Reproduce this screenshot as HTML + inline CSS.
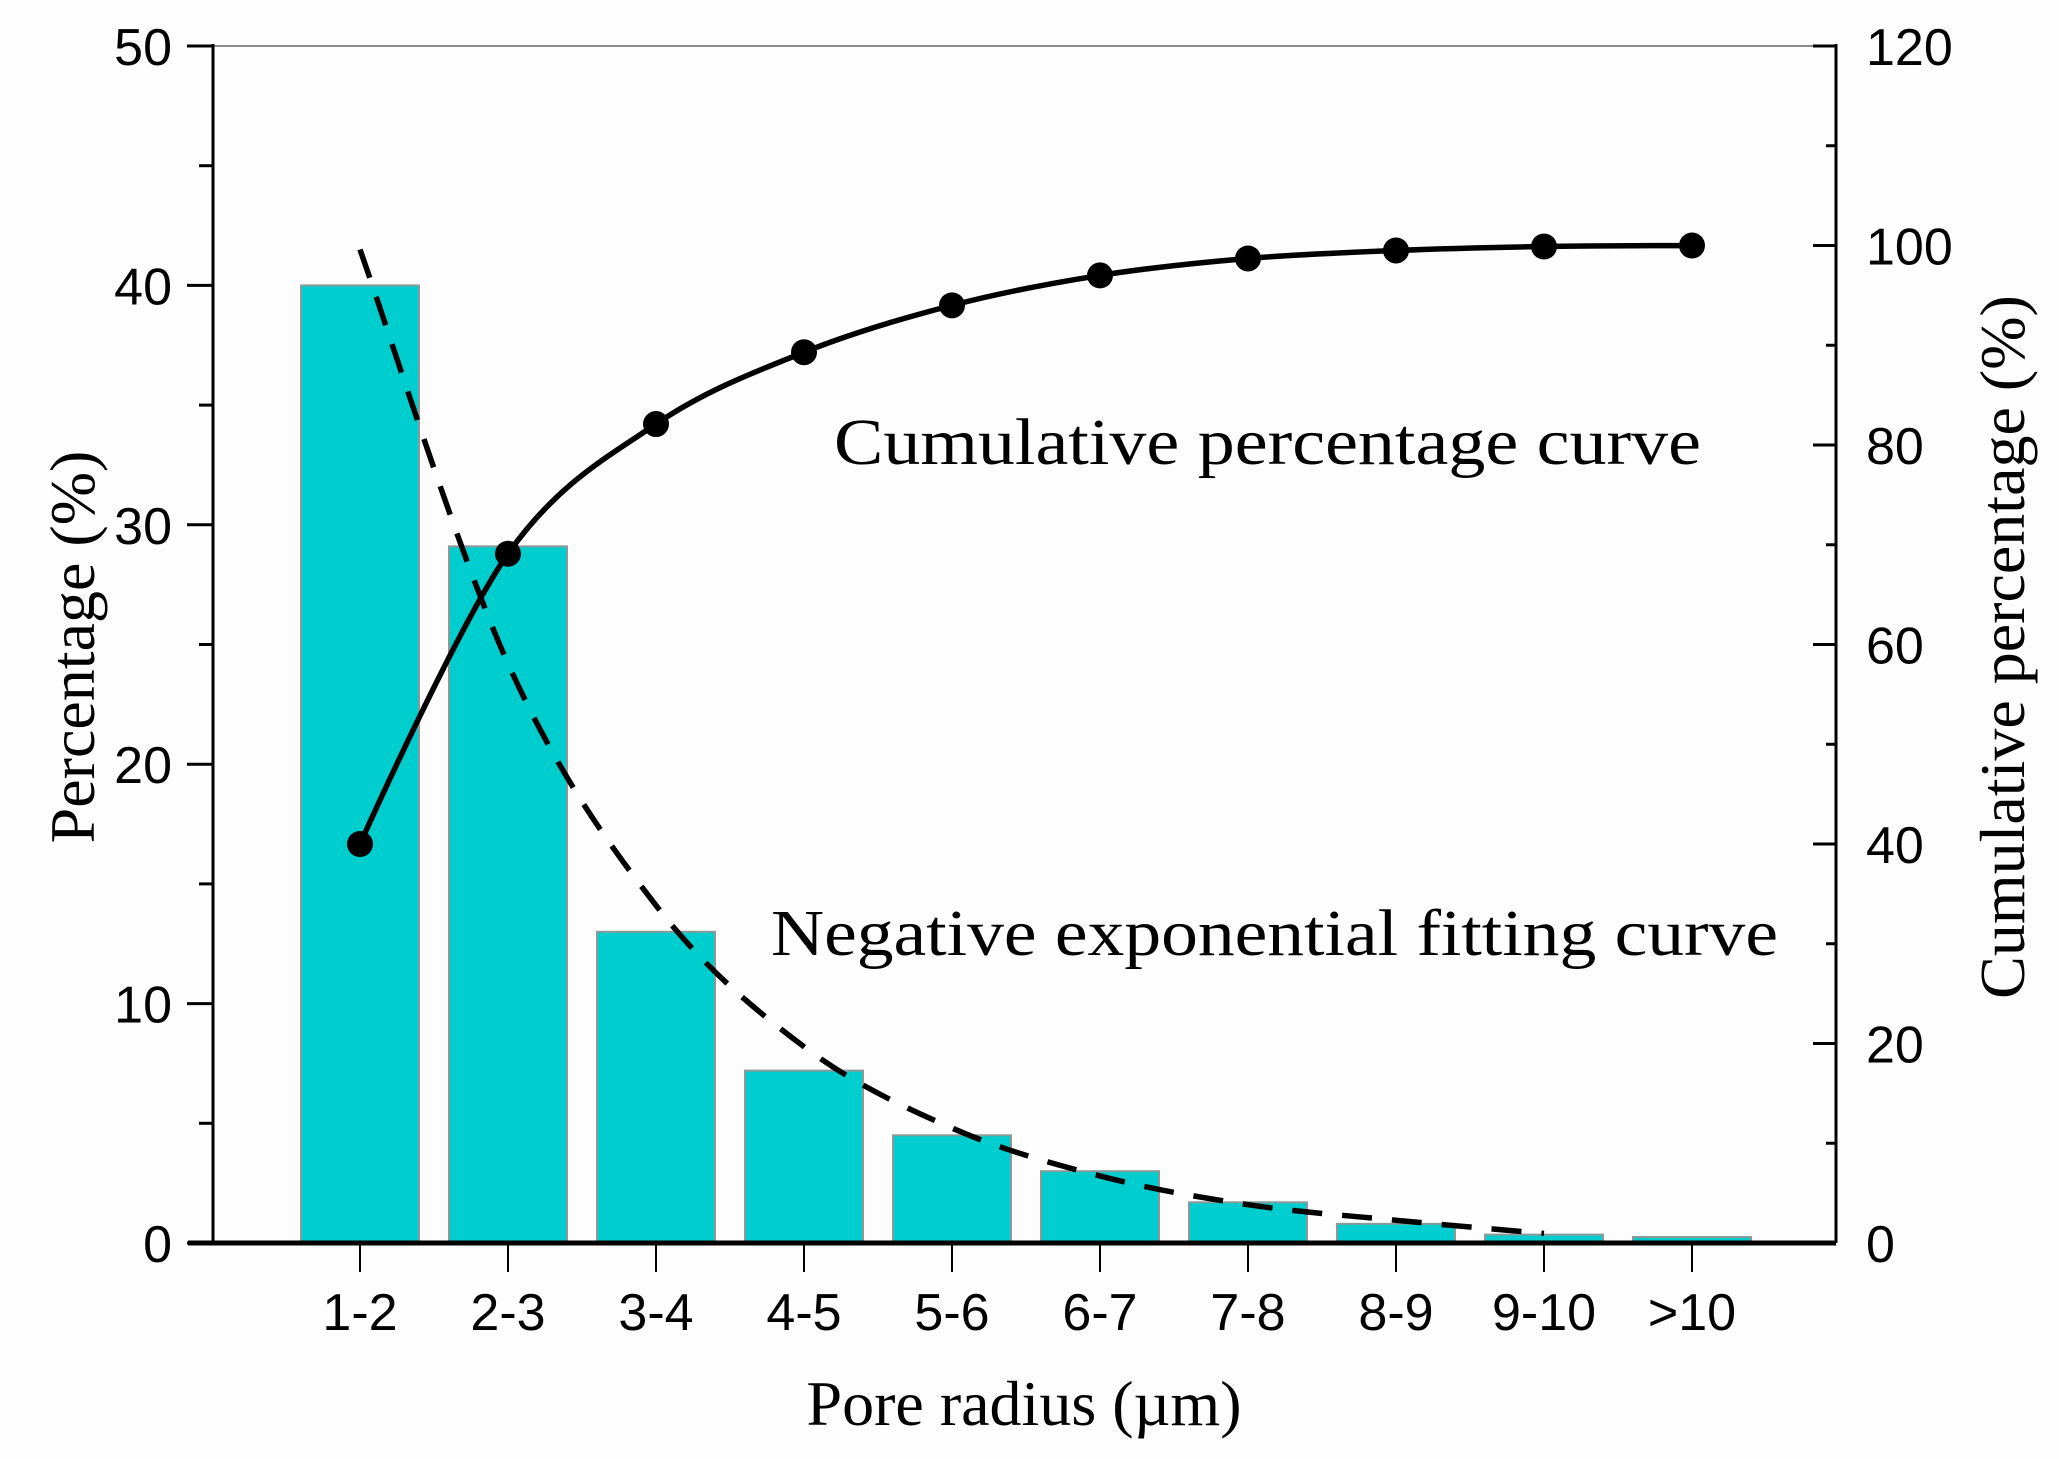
<!DOCTYPE html>
<html><head><meta charset="utf-8"><style>
html,body{margin:0;padding:0;background:#fff;}
svg{display:block;}
</style></head><body>
<svg id="chart" width="2059" height="1459" viewBox="0 0 2059 1459" xmlns="http://www.w3.org/2000/svg">
<rect x="0" y="0" width="2059" height="1459" fill="#fdfdfd"/>
<g id="plot"></g>
</svg>
<script>
const categories = ["1-2","2-3","3-4","4-5","5-6","6-7","7-8","8-9","9-10",">10"];
const percentValues = [40, 29.1, 13, 7.2, 4.5, 3.0, 1.7, 0.8, 0.35, 0.25];
const cumulativeValues = [40, 69.1, 82.1, 89.3, 94, 97, 98.7, 99.5, 99.9, 100];
const fitValues = [41.5, 24.2, 14.1, 8.2, 4.8, 2.8, 1.6, 0.95, 0.4];
const leftTicks = [0, 10, 20, 30, 40, 50];
const rightTicks = [0, 20, 40, 60, 80, 100, 120];

const NS = "http://www.w3.org/2000/svg";
const plotG = document.getElementById('plot');
const PL = 213, PR = 1836, PT = 46, PB = 1243;
const x0 = 360, dx = 148, barW = 118;
function xPos(i){ return x0 + i*dx; }
function yLeft(v){ return PB - v/50*(PB-PT); }
function yRight(v){ return PB - v/120*(PB-PT); }
function mk(tag, attrs, parent){
  const e = document.createElementNS(NS, tag);
  for (const k in attrs) e.setAttribute(k, attrs[k]);
  (parent||plotG).appendChild(e);
  return e;
}

percentValues.forEach((v,i)=>{
  const r = mk('rect',{x:xPos(i)-barW/2, y:yLeft(v), width:barW, height:PB-yLeft(v), fill:'#00cdcd', stroke:'#8a9a9a', 'stroke-width':2});
  
  
});

const topLine = mk('line',{x1:PL,y1:PT,x2:PR,y2:PT,stroke:'#888','stroke-width':2});



const la = mk('line',{x1:PL,y1:PT-2,x2:PL,y2:PB,stroke:'#000','stroke-width':3});


for (let v=0; v<=50; v+=5){
  const major = v%10===0;
  const t = mk('line',{x1:major?187:199,y1:yLeft(v),x2:PL,y2:yLeft(v),stroke:'#000','stroke-width':3});
  
  
}
leftTicks.forEach(v=>{
  const t = mk('text',{x:172,y:yLeft(v)+19,'text-anchor':'end','font-family':'Liberation Sans, sans-serif','font-size':52,fill:'#000'});
  t.textContent = v;
  
  
});

const ra = mk('line',{x1:PR,y1:PT-2,x2:PR,y2:PB,stroke:'#000','stroke-width':3});


for (let v=0; v<=120; v+=10){
  const major = v%20===0;
  const t = mk('line',{x1:major?1813:1826,y1:yRight(v),x2:PR,y2:yRight(v),stroke:'#000','stroke-width':3});
  
  
}
rightTicks.forEach(v=>{
  const t = mk('text',{x:1866,y:yRight(v)+19,'text-anchor':'start','font-family':'Liberation Sans, sans-serif','font-size':52,fill:'#000'});
  t.textContent = v;
  
  
});

const ba = mk('line',{x1:188,y1:PB,x2:PR,y2:PB,stroke:'#000','stroke-width':5});


categories.forEach((c,i)=>{
  const t = mk('line',{x1:xPos(i),y1:PB,x2:xPos(i),y2:1272,stroke:'#000','stroke-width':2});
  
  
  const lb = mk('text',{x:xPos(i),y:1330,'text-anchor':'middle','font-family':'Liberation Sans, sans-serif','font-size':52,fill:'#000'});
  lb.textContent = c;
  
  
});

(function(){
  const pts = fitValues.map((v,i)=>[xPos(i), yLeft(v)]);
  let d = 'M'+pts[0][0]+','+pts[0][1];
  for (let i=0;i<pts.length-1;i++){
    const p0 = pts[Math.max(0,i-1)], p1 = pts[i], p2 = pts[i+1], p3 = pts[Math.min(pts.length-1,i+2)];
    const c1 = [p1[0]+(p2[0]-p0[0])/6, p1[1]+(p2[1]-p0[1])/6];
    const c2 = [p2[0]-(p3[0]-p1[0])/6, p2[1]-(p3[1]-p1[1])/6];
    d += ' C'+c1[0]+','+c1[1]+' '+c2[0]+','+c2[1]+' '+p2[0]+','+p2[1];
  }
  const p = mk('path',{d:d,fill:'none',stroke:'#000','stroke-width':5.5,'stroke-dasharray':'30,20'});
  
  
})();

(function(){
  const pts = cumulativeValues.map((v,i)=>[xPos(i), yRight(v)]);
  let d = 'M'+pts[0][0]+','+pts[0][1];
  for (let i=0;i<pts.length-1;i++){
    const p0 = pts[Math.max(0,i-1)], p1 = pts[i], p2 = pts[i+1], p3 = pts[Math.min(pts.length-1,i+2)];
    const k = i===0 ? 0 : 1/6;
    const c1 = [p1[0]+(p2[0]-p0[0])*k, p1[1]+(p2[1]-p0[1])*k];
    const c2 = [p2[0]-(p3[0]-p1[0])/6, p2[1]-(p3[1]-p1[1])/6];
    d += ' C'+c1[0]+','+c1[1]+' '+c2[0]+','+c2[1]+' '+p2[0]+','+p2[1];
  }
  const p = mk('path',{d:d,fill:'none',stroke:'#000','stroke-width':5.5});
  
  
  pts.forEach((q,i)=>{
    const c = mk('circle',{cx:q[0],cy:q[1],r:13,fill:'#000'});
    
    
  });
})();

function txt(s, attrs, name){
  const t = mk('text', Object.assign({'font-family':'Liberation Serif, serif', fill:'#000'}, attrs));
  t.textContent = s;
  
  
  return t;
}
txt('Cumulative percentage curve',{x:834,y:464,'font-size':66,textLength:867,lengthAdjust:'spacingAndGlyphs'},'cumulative-curve-label');
txt('Negative exponential fitting curve',{x:771,y:955,'font-size':66,textLength:1007,lengthAdjust:'spacingAndGlyphs'},'fit-curve-label');
txt('Pore radius (\u00b5m)',{x:1024,y:1425,'font-size':64,'text-anchor':'middle'},'x-axis-title');
txt('Percentage (%)',{x:0,y:0,'font-size':64,'text-anchor':'middle',transform:'translate(94,647) rotate(-90)'},'left-axis-title');
txt('Cumulative percentage (%)',{x:0,y:0,'font-size':64,'text-anchor':'middle',transform:'translate(2024,647) rotate(-90)'},'right-axis-title');
</script>
</body></html>
